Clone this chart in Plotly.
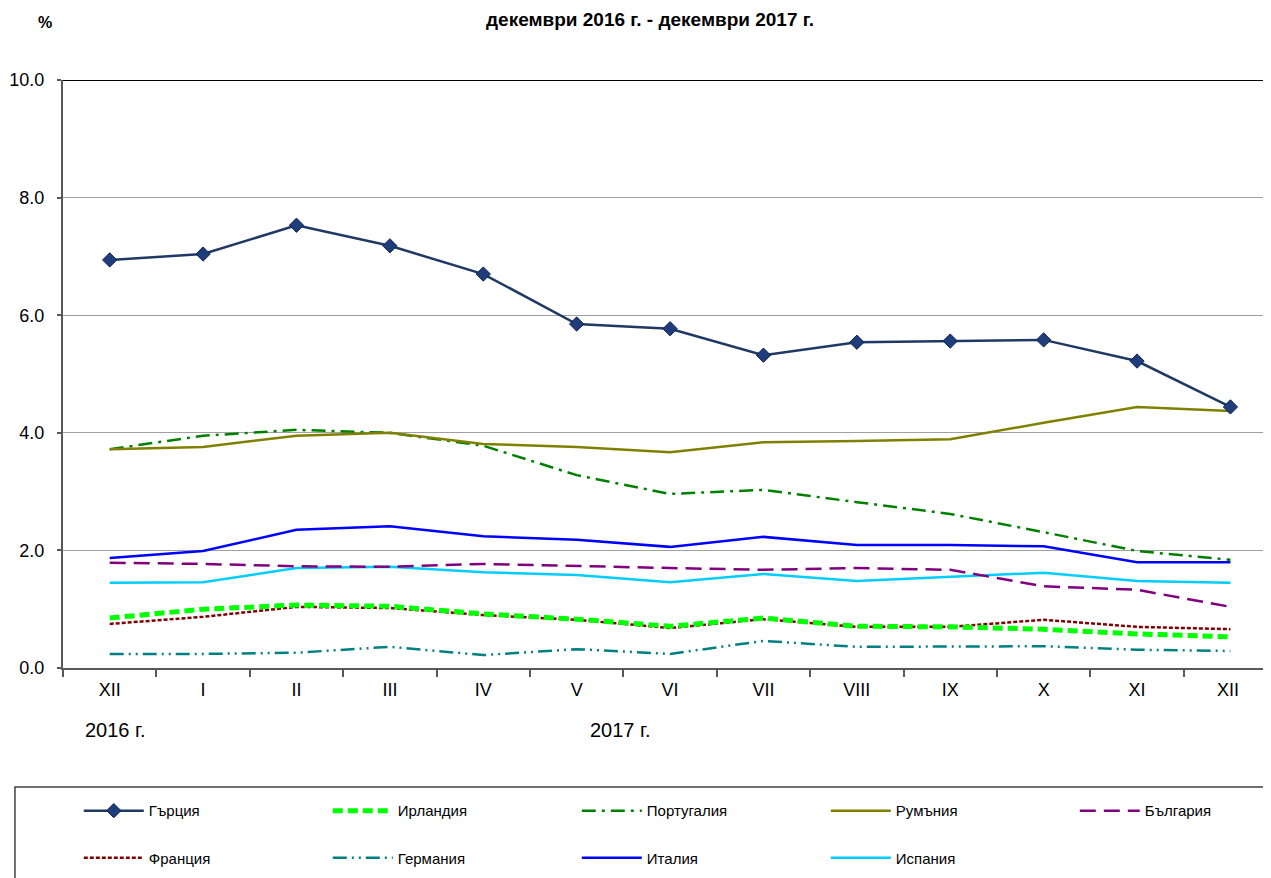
import plotly.graph_objects as go

months = ["XII", "I", "II", "III", "IV", "V", "VI", "VII", "VIII", "IX", "X", "XI", "XII "]

greece = [6.94, 7.04, 7.53, 7.18, 6.70, 5.85, 5.77, 5.32, 5.54, 5.56, 5.58, 5.22, 4.44]
ireland = [0.85, 1.00, 1.07, 1.05, 0.92, 0.83, 0.71, 0.85, 0.71, 0.70, 0.66, 0.58, 0.53]
portugal = [3.72, 3.95, 4.05, 4.00, 3.78, 3.28, 2.96, 3.03, 2.82, 2.62, 2.31, 1.99, 1.84]
romania = [3.72, 3.76, 3.95, 4.00, 3.81, 3.76, 3.67, 3.84, 3.86, 3.89, 4.17, 4.44, 4.37]
bulgaria = [1.79, 1.77, 1.73, 1.72, 1.77, 1.73, 1.70, 1.67, 1.70, 1.67, 1.39, 1.33, 1.04]
france = [0.75, 0.87, 1.04, 1.02, 0.90, 0.82, 0.68, 0.83, 0.70, 0.70, 0.82, 0.70, 0.66]
germany = [0.24, 0.24, 0.26, 0.36, 0.22, 0.32, 0.24, 0.46, 0.36, 0.36, 0.37, 0.31, 0.29]
italy = [1.87, 1.99, 2.35, 2.41, 2.24, 2.18, 2.06, 2.23, 2.09, 2.09, 2.07, 1.80, 1.80]
spain = [1.45, 1.46, 1.70, 1.72, 1.63, 1.58, 1.46, 1.60, 1.48, 1.55, 1.62, 1.48, 1.45]

FONT = "Liberation Sans, Arial"

fig = go.Figure()

def add(name, y, color, width, dash="solid", legend="legend", marker=None):
    mode = "lines+markers" if marker else "lines"
    fig.add_trace(go.Scatter(x=months, y=y, name=name, mode=mode,
                             line=dict(color=color, width=width, dash=dash),
                             marker=marker, legend=legend))

# draw order: back to front; legend groups = rows/parts of the legend box
add("Германия", germany, "#008080", 2.5, "14px,5px,2px,5px,2px,5px", "legend3")
add("Франция", france, "#800000", 2.5, "4px,2px", "legend3")
add("Ирландия", ireland, "#00FF00", 5, "10px,5px", "legend")
add("Испания", spain, "#00CCFF", 2.5, "solid", "legend3")
add("България", bulgaria, "#800080", 2.5, "16px,8px", "legend2")
add("Италия", italy, "#0000FF", 2.5, "solid", "legend3")
add("Португалия", portugal, "#008000", 2.5, "14px,6px,3px,6px", "legend")
add("Румъния", romania, "#808000", 2.5, "solid", "legend2")
add("Гърция", greece, "#1F3864", 2.5, "solid", "legend",
    marker=dict(symbol="diamond", size=11, color="#1F3D7A",
                line=dict(color="#0F2350", width=1)))

# legend order as in the reference
order = ["Гърция", "Ирландия", "Португалия", "Румъния", "България",
         "Франция", "Германия", "Италия", "Испания"]
for tr in fig.data:
    tr.legendrank = order.index(tr.name)

leg = dict(orientation="h", xanchor="left", yanchor="middle",
           entrywidth=174, entrywidthmode="pixels", itemwidth=60,
           font=dict(family=FONT, size=15, color="#000000"),
           bgcolor="rgba(0,0,0,0)", traceorder="normal", itemclick=False)

# the page body adds an 8px offset, so margins are 8px smaller than measured
fig.update_layout(
    width=1271, height=878,
    margin=dict(l=55, r=0, t=72, b=218, autoexpand=False),
    paper_bgcolor="white", plot_bgcolor="white",
    font=dict(family=FONT, color="#000000"),
    showlegend=True,
    legend=dict(leg, x=0.013, y=-0.243),
    legend2=dict(leg, x=0.013 + 747 / 1216, y=-0.243),
    legend3=dict(leg, x=0.013, y=-0.323),
    xaxis=dict(type="category", range=[-0.5, 12.52], showgrid=False,
               showline=True, linecolor="#595959", linewidth=2,
               ticks="outside", tickson="boundaries", ticklen=7, tickcolor="#595959",
               tickwidth=2, tickfont=dict(size=18), ticklabelstandoff=4),
    yaxis=dict(range=[0, 10], dtick=2, tickformat=".1f", showgrid=True,
               gridcolor="#A0A0A0", gridwidth=1, zeroline=False,
               showline=True, linecolor="#595959", linewidth=2,
               ticks="outside", ticklen=4, tickcolor="#595959", tickwidth=2,
               tickfont=dict(size=18), ticklabelstandoff=9),
)

# plot-area top border at 10.0
fig.add_shape(type="line", xref="paper", yref="y", x0=0, x1=1, y0=10, y1=10,
              line=dict(color="#000000", width=2))

# legend box
fig.add_shape(type="rect", xref="paper", yref="paper",
              x0=-0.0395, x1=1.05, y0=-0.2024, y1=-0.5,
              line=dict(color="#404040", width=1.5))

fig.add_annotation(text="<b>декември 2016 г. - декември 2017 г.</b>", xref="paper", yref="paper",
                   x=0.483, y=1.103, showarrow=False, xanchor="center", yanchor="middle",
                   font=dict(family=FONT, size=19))
fig.add_annotation(text="<b>%</b>", xref="paper", yref="paper",
                   x=-0.0148, y=1.098, showarrow=False, xanchor="center", yanchor="middle",
                   font=dict(size=16))
fig.add_annotation(text="2016 г.", xref="paper", yref="paper",
                   x=0.0428, y=-0.105, showarrow=False, xanchor="center", yanchor="middle",
                   font=dict(size=20))
fig.add_annotation(text="2017 г.", xref="paper", yref="paper",
                   x=0.458, y=-0.105, showarrow=False, xanchor="center", yanchor="middle",
                   font=dict(size=20))

fig.write_html("out.html")
